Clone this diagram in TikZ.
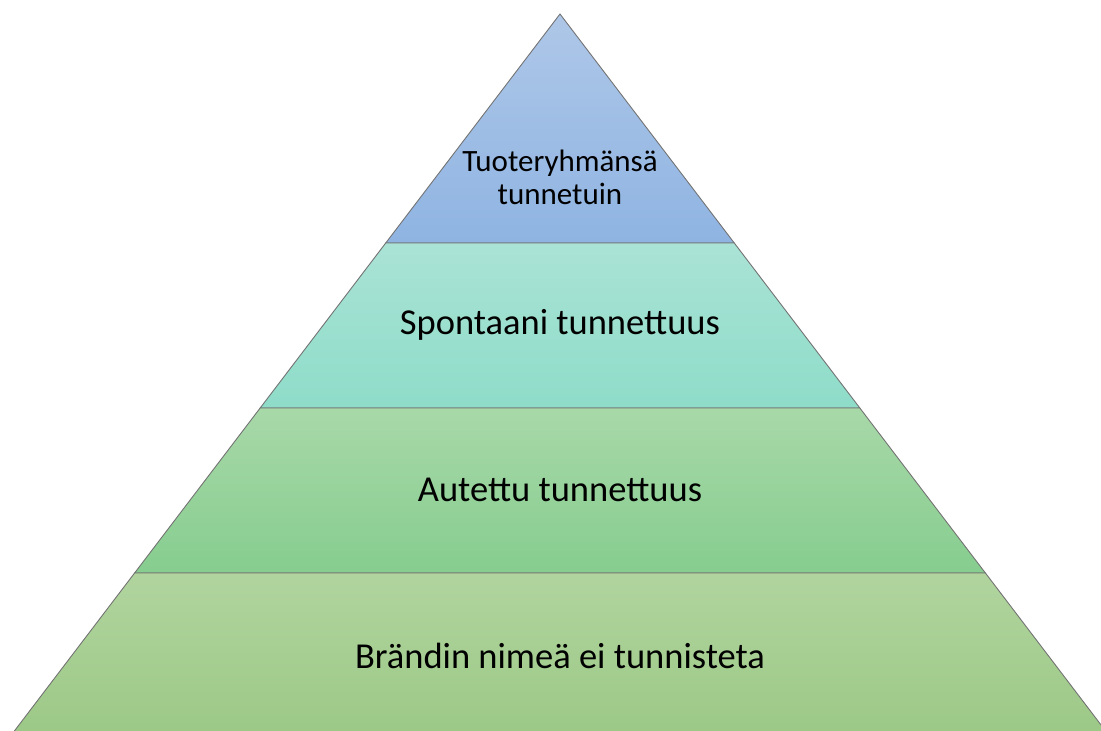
\documentclass[tikz,border=0pt]{standalone}
\usepackage{fontspec}
\setmainfont{Carlito}
\begin{document}
\begin{tikzpicture}[x=1pt,y=-1pt,
  band/.style={draw=black!55, line width=0.9pt, line join=miter},
  lbl/.style={font=\fontsize{36.5}{36.5}\selectfont, text=black, align=center, inner sep=0pt},
  lbltop/.style={font=\fontsize{31}{33}\selectfont, text=black, align=center, inner sep=0pt}]
\useasboundingbox (0,0) rectangle (1101,731);
% apex and slope of the sides
\def\ax{560}\def\ay{14}\def\k{0.761}
\begin{scope}
\clip (0,0) rectangle (1101,731);
% top band
\shade[band, top color={rgb,255:red,174;green,199;blue,232}, bottom color={rgb,255:red,143;green,180;blue,226}]
  (\ax,\ay) -- ({\ax+\k*(243-\ay)},243) -- ({\ax-\k*(243-\ay)},243) -- cycle;
% second band
\shade[band, top color={rgb,255:red,170;green,227;blue,214}, bottom color={rgb,255:red,142;green,220;blue,201}]
  ({\ax-\k*(243-\ay)},243) -- ({\ax+\k*(243-\ay)},243) -- ({\ax+\k*(408-\ay)},408) -- ({\ax-\k*(408-\ay)},408) -- cycle;
% third band
\shade[band, top color={rgb,255:red,168;green,216;blue,168}, bottom color={rgb,255:red,134;green,205;blue,143}]
  ({\ax-\k*(408-\ay)},408) -- ({\ax+\k*(408-\ay)},408) -- ({\ax+\k*(573-\ay)},573) -- ({\ax-\k*(573-\ay)},573) -- cycle;
% bottom band
\shade[band, top color={rgb,255:red,177;green,212;blue,158}, bottom color={rgb,255:red,155;green,200;blue,134}]
  ({\ax-\k*(573-\ay)},573) -- ({\ax+\k*(573-\ay)},573) -- ({\ax+\k*(740-\ay)},740) -- ({\ax-\k*(740-\ay)},740) -- cycle;
\end{scope}
\node[lbltop] (t1) at (560,177) {Tuoteryhmänsä\\tunnetuin};
\node[lbl] (t2) at (560,325) {Spontaani tunnettuus};
\node[lbl] (t3) at (560,490) {Autettu tunnettuus};
\node[lbl] (t4) at (560,656) {Brändin nimeä ei tunnisteta};
\end{tikzpicture}
\end{document}
